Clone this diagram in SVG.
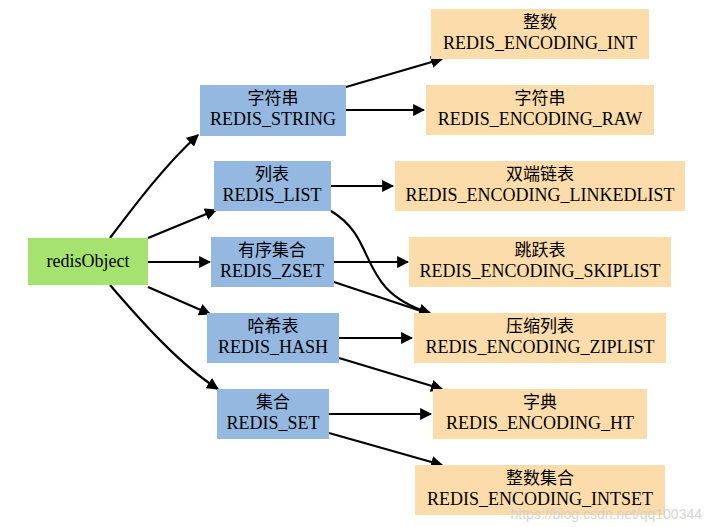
<svg xmlns="http://www.w3.org/2000/svg" width="712" height="527" viewBox="0 0 712 527">
<style>
text{font-family:"Liberation Serif","Noto Sans CJK SC",serif;font-size:18px;text-anchor:middle;fill:#000}
.c{font-size:17px}
.g{fill:#a6e270}.b{fill:#94b8e0}.o{fill:#fcdcaa}
.e path{fill:none;stroke:#000;stroke-width:2.2;marker-end:url(#a)}
</style>
<defs><marker id="a" viewBox="0 0 10 10" refX="9" refY="5" markerWidth="5.5" markerHeight="5.5" orient="auto" markerUnits="strokeWidth"><path d="M0,0L10,5L0,10z" fill="#000"/></marker></defs>
<rect width="712" height="527" fill="#fff"/>
<g class="e">
<path d="M110,238C135,205 165,165 198,135"/>
<path d="M148,238L216,210"/>
<path d="M148,262L210,262"/>
<path d="M148,287L210,314"/>
<path d="M110,285C140,320 180,365 218,389"/>
<path d="M346,87L442,59"/>
<path d="M346,110L424,110"/>
<path d="M331,186L393,186"/>
<path d="M331,211C380,240 355,290 430,313"/>
<path d="M334,262L408,262"/>
<path d="M334,282L430,314"/>
<path d="M339,338L412,338"/>
<path d="M339,358L442,389"/>
<path d="M329,414L431,414"/>
<path d="M329,433L442,465"/>
</g>
<g id="redisObject"><rect class="g" x="28" y="238" width="120" height="47"/><text x="88" y="267">redisObject</text></g>
<g id="string"><rect class="b" x="200" y="85" width="146" height="51"/><text class="c" x="273" y="104">字符串</text><text x="273" y="125">REDIS_STRING</text></g>
<g id="list"><rect class="b" x="214" y="161" width="117" height="50"/><text class="c" x="272" y="180">列表</text><text x="272" y="201">REDIS_LIST</text></g>
<g id="zset"><rect class="b" x="211" y="237" width="123" height="50"/><text class="c" x="272" y="256">有序集合</text><text x="272" y="277">REDIS_ZSET</text></g>
<g id="hash"><rect class="b" x="207" y="313" width="132" height="50"/><text class="c" x="273" y="332">哈希表</text><text x="273" y="353">REDIS_HASH</text></g>
<g id="set"><rect class="b" x="217" y="389" width="112" height="50"/><text class="c" x="273" y="408">集合</text><text x="273" y="429">REDIS_SET</text></g>
<g id="int"><rect class="o" x="431" y="9" width="218" height="50"/><text class="c" x="540" y="28">整数</text><text x="540" y="49">REDIS_ENCODING_INT</text></g>
<g id="raw"><rect class="o" x="426" y="85" width="228" height="50"/><text class="c" x="540" y="104">字符串</text><text x="540" y="125">REDIS_ENCODING_RAW</text></g>
<g id="linkedlist"><rect class="o" x="395" y="161" width="290" height="50"/><text class="c" x="540" y="180">双端链表</text><text x="540" y="201">REDIS_ENCODING_LINKEDLIST</text></g>
<g id="skiplist"><rect class="o" x="409" y="237" width="262" height="50"/><text class="c" x="540" y="256">跳跃表</text><text x="540" y="277">REDIS_ENCODING_SKIPLIST</text></g>
<g id="ziplist"><rect class="o" x="414" y="313" width="252" height="50"/><text class="c" x="540" y="332">压缩列表</text><text x="540" y="353">REDIS_ENCODING_ZIPLIST</text></g>
<g id="ht"><rect class="o" x="433" y="389" width="214" height="50"/><text class="c" x="540" y="408">字典</text><text x="540" y="429">REDIS_ENCODING_HT</text></g>
<g id="intset"><rect class="o" x="415" y="465" width="250" height="50"/><text class="c" x="540" y="484">整数集合</text><text x="540" y="505">REDIS_ENCODING_INTSET</text></g>
<text x="702" y="519" style="font-family:'Liberation Sans',sans-serif;font-size:14px;text-anchor:end;fill:#ccc;opacity:0.8">https://blog.csdn.net/qq100344</text>
</svg>
